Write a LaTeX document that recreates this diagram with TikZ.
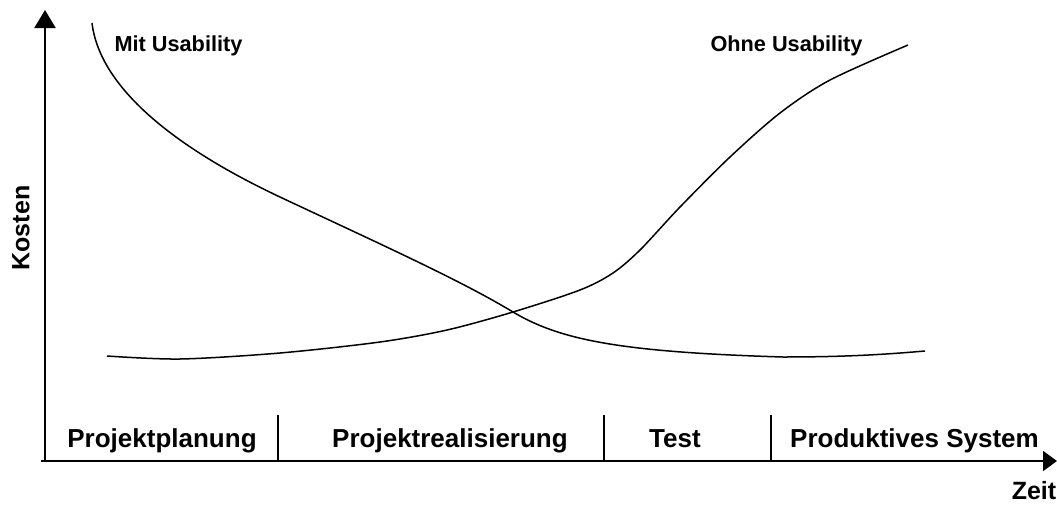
\documentclass[tikz,border=0pt]{standalone}
\usepackage{fontspec}
\setmainfont{Liberation Sans}
\usetikzlibrary{arrows.meta}
\begin{document}
\begin{tikzpicture}[x=1pt,y=-1pt,
  axis/.style={line width=2pt},
  divider/.style={line width=1.6pt},
  curve/.style={line width=1.5pt,line join=round},
  phase/.style={anchor=base,inner sep=0pt,font=\bfseries\fontsize{26}{30}\selectfont},
  clabel/.style={anchor=base,inner sep=0pt,font=\bfseries\fontsize{21.7}{26}\selectfont},
  alabel/.style={inner sep=0pt,font=\bfseries\fontsize{25}{30}\selectfont}]
\useasboundingbox (0,0) rectangle (1057,506);
% axes
\coordinate (origin) at (45,461);
\coordinate (xstart) at (41,461);
\coordinate (ytop) at (45,10);
\coordinate (xend) at (1057,461);
\draw[axis,-{Triangle[length=18pt,width=21pt]}] (origin) -- (ytop);
\draw[axis,-{Triangle[length=14pt,width=20pt]}] (xstart) -- (xend);
% dividers
\coordinate (d1b) at (278,461); \coordinate (d1t) at (278,415);
\coordinate (d2b) at (604,461); \coordinate (d2t) at (604,415);
\coordinate (d3b) at (771,461); \coordinate (d3t) at (771,415);
\draw[divider] (d1b) -- (d1t);
\draw[divider] (d2b) -- (d2t);
\draw[divider] (d3b) -- (d3t);
% phase labels
\node[phase] (p1) at (162,447) {Projektplanung};
\node[phase] (p2) at (450,447) {Projektrealisierung};
\node[phase] (p3) at (675,447) {Test};
\node[phase] (p4) at (914.5,447) {Produktives System};
% axis labels
\node[alabel,rotate=90] (kosten) at (21,228) {Kosten};
\node[alabel,anchor=base] (zeit) at (1034,499) {Zeit};
% curve labels
\node[clabel] (mit) at (178.5,51) {Mit Usability};
\node[clabel] (ohne) at (786.5,51) {Ohne Usability};
% curves
\coordinate (m0) at (92,23);
\coordinate (m1) at (280,197);
\coordinate (m2) at (513,312);
\coordinate (m3) at (783,357);
\coordinate (m4) at (925,351);
\draw[curve] (m0) .. controls (100,90) and (180,150) .. (m1)
  .. controls (380,244) and (460,280) .. (m2)
  .. controls (560,340) and (620,352) .. (m3)
  .. controls (850,357) and (890,354) .. (m4);
\draw[curve] plot[smooth,tension=0.5] coordinates {
  (107,356) (180,359) (280,353) (380,342) (447,330) (513,312)
  (580,290) (613,273) (640,250) (680,207) (730,157) (780,113) (830,80) (908,45)};
\end{tikzpicture}
\end{document}
